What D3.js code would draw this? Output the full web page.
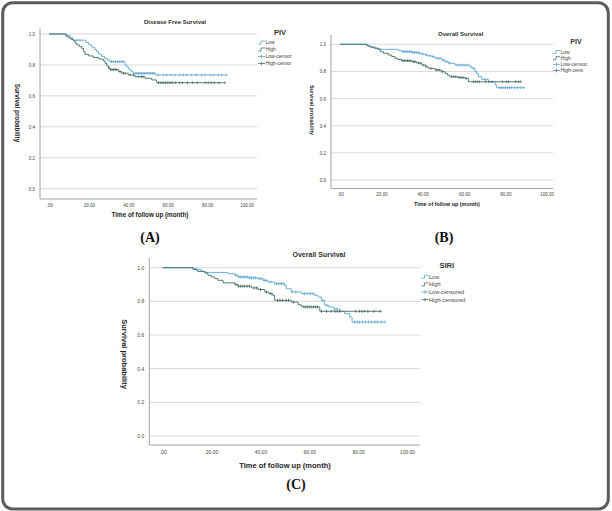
<!DOCTYPE html>
<html>
<head>
<meta charset="utf-8">
<script src="https://cdn.jsdelivr.net/npm/d3@7"></script>
<style>
  body { margin: 0; background: #fff; }
  svg { display: block; font-family: "Liberation Sans", Arial, sans-serif; }
</style>
</head>
<body>
<div id="chart"></div>
<script>
const xTicks = [0, 20, 40, 60, 80, 100];
const yTicks = [0, 0.2, 0.4, 0.6, 0.8, 1.0];

// (A) disease free survival by PIV, [month, survival]
const dfsPivLow = [[0,1],[8.3,0.99],[10.5,0.975],[12,0.96],[18.5,0.945],[20,0.93],[21.5,0.915],[23,0.9],[24,0.886],[25,0.87],[26.5,0.855],[28,0.843],[29.5,0.832],[30.7,0.821],[38.3,0.8],[39.2,0.789],[40,0.775],[40.9,0.765],[41.8,0.756],[42.6,0.746],[53.8,0.735],[89.9,0.735]];
const dfsPivHigh = [[0,1],[8.6,0.985],[9.6,0.975],[11,0.965],[12.2,0.955],[13.2,0.94],[13.9,0.93],[15.2,0.918],[16.4,0.907],[17.4,0.885],[18.1,0.868],[20,0.858],[22.3,0.848],[25,0.838],[27.4,0.826],[28.3,0.81],[29.1,0.795],[29.9,0.782],[30.7,0.77],[35,0.757],[36.7,0.746],[40,0.735],[43.4,0.724],[48.5,0.714],[51.9,0.703],[54.4,0.685],[89,0.685]];
const dfsPivLowCensor = [14,15.5,31.5,32.5,33.5,34.5,35.5,36.5,37.5,43.5,44.3,45.1,45.9,46.7,47.5,48.3,49.1,49.9,50.7,51.5,52.3,53.1,55.2,57.8,59.5,61.6,63.7,66.1,67.9,69.6,72.1,74.6,77.2,78.9,81.4,83.1,85.6,87.3,89.9];
const dfsPivHighCensor = [30.2,31,31.8,32.6,33.4,34.2,35.8,37.5,38.5,41,42.5,45,46.5,47.5,55.3,56.2,57.1,58,58.9,59.8,60.7,61.6,62.5,64,66,67.5,70,72.5,75,79,80.5,82,83.5,86,89];

// (B) overall survival by PIV
const osPivLow = [[0,1],[12.9,0.995],[13.7,0.988],[15,0.982],[16.9,0.975],[18,0.97],[19.4,0.963],[28.2,0.955],[29.8,0.946],[34.7,0.94],[37.9,0.934],[39.5,0.928],[41.1,0.921],[42.7,0.915],[44.4,0.909],[46,0.897],[49.2,0.884],[50.8,0.872],[52.4,0.86],[55.6,0.847],[62.9,0.835],[63.8,0.823],[65.3,0.8],[66,0.786],[66.9,0.761],[68.6,0.742],[71.7,0.724],[75,0.7],[75.8,0.68],[89.5,0.68]];
const osPivHigh = [[0,1],[12.9,0.99],[14,0.982],[15.3,0.975],[17,0.968],[18.5,0.96],[19.5,0.945],[21,0.934],[23.4,0.921],[25,0.91],[26.6,0.897],[28,0.888],[29.8,0.879],[34.7,0.872],[37,0.862],[39.5,0.847],[41.5,0.835],[42.7,0.823],[46,0.811],[49,0.798],[50.8,0.786],[52,0.773],[53.2,0.761],[57,0.755],[60.5,0.749],[62.1,0.724],[87.5,0.724]];
const osPivLowCensor = [30.5,31.3,32,32.8,33.6,34.3,35.1,36,36.8,37.6,38.5,40,41.8,43.5,45,47,48.3,50,51.5,53,56.5,57.5,58.5,59.5,60.5,61.5,64.5,70,77,78,79,80,81,82,83,84.5,86,87.5,89];
const osPivHighCensor = [30.3,31.1,31.9,32.7,33.5,34.3,35.5,36.3,38,38.8,40.5,41.5,44,46.5,47.3,48.1,49.5,54,55,56,57.5,58.5,59.5,61,64.5,65.5,66.5,67.5,70.5,72,73.5,78.5,80.5,81.5,85,86.5,87.5];

// (C) overall survival by SIRI
const osSiriLow = [[0,1],[12.4,0.995],[13.8,0.99],[15.8,0.978],[17.5,0.972],[26.7,0.964],[29.5,0.955],[30.8,0.945],[35,0.94],[39,0.935],[41,0.925],[43.1,0.915],[45.8,0.905],[49.9,0.895],[50.6,0.875],[52.6,0.856],[56.7,0.846],[62.2,0.836],[63.6,0.826],[64.9,0.806],[66.3,0.777],[68,0.767],[70,0.755],[72.5,0.741],[74.5,0.727],[76.5,0.707],[77.5,0.677],[91,0.677]];
const osSiriHigh = [[0,1],[12.4,0.99],[13.8,0.984],[14.4,0.978],[17.2,0.968],[18.5,0.955],[19.9,0.945],[21.3,0.935],[22.6,0.925],[24.7,0.91],[29.5,0.9],[30.8,0.89],[36.3,0.88],[39,0.87],[41.8,0.855],[43.5,0.845],[45.1,0.835],[45.8,0.806],[52.6,0.796],[55.4,0.78],[56.7,0.771],[57.5,0.767],[64.3,0.741],[89.6,0.741]];
const osSiriLowCensor = [30,31,31.8,32.5,33.2,34,34.8,35.6,36.4,37.2,38,39.5,40.3,41.5,42.3,44,46.5,47.5,48.5,49.3,53,54.5,58,59.2,60.4,61.5,65.5,67.2,71,78.5,79.5,80.5,81.8,83,84.2,85.5,86.8,88,89.5,91];
const osSiriHighCensor = [30,31,31.8,32.6,33.5,34.5,35.5,37.5,38.5,40,42.5,44.3,47,48,49,50.5,51.5,53.5,57.8,58.6,59.4,60.2,61,61.8,62.6,63.4,65,67,69,70.5,71.5,72.5,79,80.5,81.5,82.5,84,86.5,89];

const legendPiv = ["Low", "High", "Low-censor", "High-censo"];
const legendPivB = ["Low", "High", "Low-censoc", "High-cens"];
const legendSiri = ["Low", "High", "Low-censored", "High-censored"];

const lowColor = "#5aa6d8", lowMark = "#4a96cc";
const highColor = "#426e66", highMark = "#2a524b";

const panels = [
  {title: "Disease Free Survival", group: "PIV", legend: legendPiv, tag: "(A)",
   low: dfsPivLow, high: dfsPivHigh, lowC: dfsPivLowCensor, highC: dfsPivHighCensor,
   axisX: 40, x0: 49.3, x100: 246.7, right: 257, y1: 34, y0: 188.7, axisY: 199, axisTop: 28,
   tickFs: 4.5, tickY: 205.5, titleX: 175, titleY: 24, titleFs: 6,
   xLabX: 150, xLabY: 217, labFs: 6.3, yLabX: 17, yLabY: 113,
   legX: 258, legTitleX: 280, legTitleY: 35, legY: 42.5, legDy: 7, legFs: 5, legTitleFs: 7.5,
   tagX: 150, tagY: 242, markH: 2.6},
  {title: "Overall Survival", group: "PIV", legend: legendPivB, tag: "(B)",
   low: osPivLow, high: osPivHigh, lowC: osPivLowCensor, highC: osPivHighCensor,
   axisX: 331, x0: 340, x100: 546.7, right: 553, y1: 44.3, y0: 180, axisY: 188.5, axisTop: 35,
   tickFs: 4.5, tickY: 194.5, titleX: 460.7, titleY: 35.5, titleFs: 6,
   xLabX: 447, xLabY: 205.5, labFs: 5.4, yLabX: 312, yLabY: 110,
   legX: 553, legTitleX: 576, legTitleY: 44, legY: 52, legDy: 6.2, legFs: 5, legTitleFs: 7,
   tagX: 444, tagY: 242, markH: 2.6},
  {title: "Overall Survival", group: "SIRI", legend: legendSiri, tag: "(C)",
   low: osSiriLow, high: osSiriHigh, lowC: osSiriLowCensor, highC: osSiriHighCensor,
   axisX: 149.3, x0: 162.7, x100: 407, right: 420, y1: 267.7, y0: 436, axisY: 445, axisTop: 258,
   tickFs: 5, tickY: 452.5, titleX: 319, titleY: 256.5, titleFs: 7,
   xLabX: 285, xLabY: 467.5, labFs: 7.5, yLabX: 125, yLabY: 354,
   legX: 421.5, legTitleX: 446.7, legTitleY: 267.5, legY: 276.8, legDy: 7.6, legFs: 5.6, legTitleFs: 7.5,
   tagX: 296, tagY: 489, markH: 3}
];

const survAt = (steps, t) => {
  let s = steps[0][1];
  steps.forEach(d => { if (d[0] <= t) s = d[1]; });
  return s;
};

const svg = d3.select("#chart").append("svg")
  .attr("width", 612)
  .attr("height", 511);

svg.append("rect")
  .attr("x", 2.7).attr("y", 2.7)
  .attr("width", 605.6).attr("height", 506.3)
  .attr("rx", 10)
  .attr("fill", "#fff")
  .attr("stroke", "#5c5c5c")
  .attr("stroke-width", 3);

panels.forEach(p => {
  const x = d3.scaleLinear().domain([0, 100]).range([p.x0, p.x100]);
  const y = d3.scaleLinear().domain([0, 1]).range([p.y0, p.y1]);
  const g = svg.append("g");

  // gridlines
  g.append("g")
    .selectAll("line")
    .data(yTicks)
    .enter().append("line")
    .attr("x1", p.axisX).attr("x2", p.right)
    .attr("y1", d => y(d)).attr("y2", d => y(d))
    .attr("stroke", "#d4d4d4")
    .attr("stroke-width", 0.9);

  // axes
  const xAxis = g.append("g")
    .attr("transform", `translate(0,${p.axisY})`)
    .call(d3.axisBottom(x).tickValues(xTicks).tickSize(0).tickFormat(d => d === 0 ? ".00" : d3.format(".2f")(d)));
  xAxis.select(".domain").attr("d", `M${p.axisX},0H${p.right}`).attr("stroke", "#8a8a8a").attr("stroke-width", 0.8);
  xAxis.selectAll("text")
    .attr("y", p.tickY - p.axisY)
    .attr("dy", "0.32em")
    .attr("font-size", p.tickFs)
    .attr("font-family", "Liberation Sans, Arial, sans-serif")
    .attr("fill", "#444");

  const yAxis = g.append("g")
    .attr("transform", `translate(${p.axisX},0)`)
    .call(d3.axisLeft(y).tickValues(yTicks).tickSize(0).tickFormat(d3.format(".1f")));
  yAxis.select(".domain").attr("d", `M0,${p.axisTop}V${p.axisY}`).attr("stroke", "#8a8a8a").attr("stroke-width", 0.8);
  yAxis.selectAll("text")
    .attr("x", -5)
    .attr("font-size", p.tickFs)
    .attr("font-family", "Liberation Sans, Arial, sans-serif")
    .attr("fill", "#444");

  // survival curves
  const line = d3.line()
    .x(d => x(d[0]))
    .y(d => y(d[1]))
    .curve(d3.curveStepAfter);

  [[p.low, lowColor], [p.high, highColor]].forEach(([steps, col]) => {
    g.append("path")
      .datum(steps)
      .attr("d", line)
      .attr("fill", "none")
      .attr("stroke", col)
      .attr("stroke-width", 0.9);
  });

  [[p.lowC, p.low, lowMark], [p.highC, p.high, highMark]].forEach(([cens, steps, col]) => {
    g.append("g")
      .selectAll("line")
      .data(cens)
      .enter().append("line")
      .attr("x1", d => x(d)).attr("x2", d => x(d))
      .attr("y1", d => y(survAt(steps, d)) - p.markH / 2)
      .attr("y2", d => y(survAt(steps, d)) + p.markH / 2)
      .attr("stroke", col)
      .attr("stroke-width", 0.7);
  });

  // texts
  g.append("text")
    .attr("x", p.titleX).attr("y", p.titleY)
    .attr("text-anchor", "middle")
    .attr("font-size", p.titleFs)
    .attr("font-weight", "bold")
    .attr("fill", "#333")
    .text(p.title);

  g.append("text")
    .attr("x", p.xLabX).attr("y", p.xLabY)
    .attr("text-anchor", "middle")
    .attr("font-size", p.labFs)
    .attr("font-weight", "bold")
    .attr("fill", "#222")
    .text("Time of follow up (month)");

  g.append("text")
    .attr("transform", `translate(${p.yLabX},${p.yLabY}) rotate(90)`)
    .attr("text-anchor", "middle")
    .attr("dy", "0.35em")
    .attr("font-size", p.labFs)
    .attr("font-weight", "bold")
    .attr("fill", "#222")
    .text("Survival probability");

  g.append("text")
    .attr("x", p.tagX).attr("y", p.tagY)
    .attr("text-anchor", "middle")
    .attr("font-family", "Liberation Serif, Times New Roman, serif")
    .attr("font-size", 14)
    .attr("font-weight", "bold")
    .attr("fill", "#111")
    .text(p.tag);

  // legend
  g.append("text")
    .attr("x", p.legTitleX).attr("y", p.legTitleY)
    .attr("text-anchor", "middle")
    .attr("font-size", p.legTitleFs)
    .attr("font-weight", "bold")
    .attr("fill", "#333")
    .text(p.group);

  const leg = g.append("g")
    .selectAll("g")
    .data(p.legend)
    .enter().append("g")
    .attr("transform", (d, i) => `translate(${p.legX},${p.legY + i * p.legDy})`);

  leg.append("path")
    .attr("d", (d, i) => i < 2 ? "M0,1.5H3V-1.5H7" : "M0,0H7M3.5,-1.8V1.8")
    .attr("fill", "none")
    .attr("stroke", (d, i) => i % 2 === 0 ? lowColor : highColor)
    .attr("stroke-width", 0.8);

  leg.append("text")
    .attr("x", 7.5)
    .attr("dy", "0.35em")
    .attr("font-size", p.legFs)
    .attr("fill", "#444")
    .text(d => d);
});
</script>
</body>
</html>
